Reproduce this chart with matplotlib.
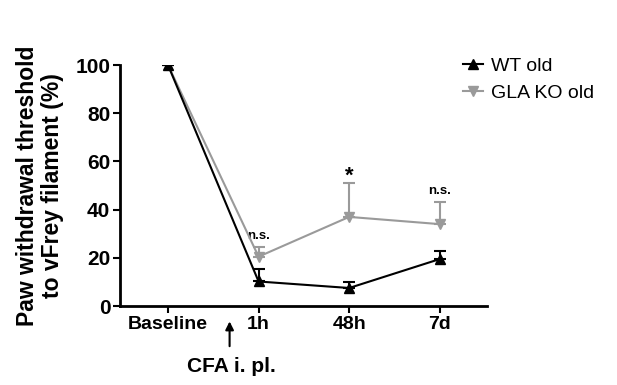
import matplotlib
matplotlib.use("Agg")
import matplotlib.pyplot as plt
from matplotlib.lines import Line2D
import numpy as np

plt.rcParams['font.family'] = ['Liberation Sans', 'DejaVu Sans']

categories = ["Baseline", "1h", "48h", "7d"]
wt_mean = [100, 10.2, 7.5, 19.5]
wt_err = [0, 5.2, 2.5, 3.5]
ko_mean = [100, 20.5, 37.0, 34.0]
ko_err = [0, 4.0, 14.0, 9.0]
annotations = ["", "n.s.", "*", "n.s."]

fig = plt.figure(figsize=(6.17, 3.85), dpi=100)
ax = fig.add_axes([0.1945, 0.205, 0.5945, 0.626])

x = np.arange(len(categories))
gray = '#9a9a9a'

ax.errorbar(x, ko_mean, yerr=[np.zeros(4), ko_err], color=gray, marker='v',
            markersize=7, lw=1.5, capsize=4, capthick=1.5, elinewidth=1.5,
            zorder=3)
ax.errorbar(x, wt_mean, yerr=[np.zeros(4), wt_err], color='black', marker='^',
            markersize=7, lw=1.5, capsize=4, capthick=1.5, elinewidth=1.5,
            zorder=4)

for xi, m, e, a in zip(x, ko_mean, ko_err, annotations):
    if a == '*':
        ax.text(xi, m + e - 1.5, a, ha='center', va='bottom',
                fontsize=16, fontweight='bold')
    elif a:
        ax.text(xi, m + e + 2.2, a, ha='center', va='bottom',
                fontsize=9.5, fontweight='bold')

ax.set_xlim(-0.53, 3.52)
ax.set_ylim(0, 100)
ax.set_yticks([0, 20, 40, 60, 80, 100])
ax.set_xticks(x)
ax.set_xticklabels(categories)
for lab in ax.get_xticklabels() + ax.get_yticklabels():
    lab.set_fontweight('bold')
ax.tick_params(axis='x', labelsize=14)
ax.tick_params(axis='y', labelsize=15)
ax.tick_params(axis='both', width=1.5, length=5, pad=2)
for s in ['top', 'right']:
    ax.spines[s].set_visible(False)
for s in ['left', 'bottom']:
    ax.spines[s].set_linewidth(2)

ax.set_ylabel("Paw withdrawal threshold\nto vFrey filament (%)", fontsize=16.5,
              fontweight='bold', linespacing=1.12)
ax.yaxis.set_label_coords(-0.153, 0.5)

trans = matplotlib.transforms.blended_transform_factory(ax.transData, ax.transAxes)
ax.annotate("", xy=(0.68, -0.052), xytext=(0.68, -0.178), xycoords=trans,
            textcoords=trans, annotation_clip=False,
            arrowprops=dict(arrowstyle='-|>', color='black', lw=1.5, mutation_scale=12))
ax.text(0.70, -0.25, "CFA i. pl.", transform=trans, ha='center', va='center',
        fontsize=15, fontweight='bold', clip_on=False)

handles = [Line2D([], [], color='black', marker='^', markersize=7, lw=1.5),
           Line2D([], [], color=gray, marker='v', markersize=7, lw=1.5)]
ax.legend(handles, ["WT old", "GLA KO old"], loc='upper left',
          bbox_to_anchor=(0.915, 1.063), frameon=False, fontsize=14,
          handlelength=1.0, handletextpad=0.4, labelspacing=0.45,
          borderaxespad=0)

fig.savefig("out.png", dpi=100)
